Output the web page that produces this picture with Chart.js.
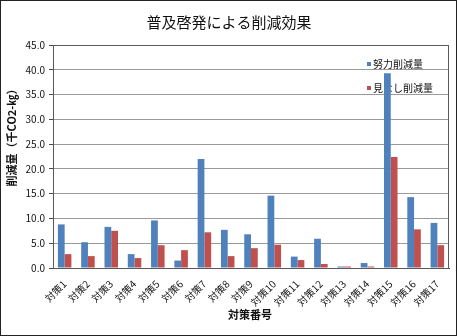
<!DOCTYPE html>
<html>
<head>
<meta charset="utf-8">
<script src="https://cdn.jsdelivr.net/npm/chart.js@4"></script>
<style>
  html, body { margin: 0; padding: 0; background: #fff; }
  #wrap { width: 457px; height: 336px; }
</style>
</head>
<body>
<div id="wrap"><canvas id="effectChart" width="457" height="336"></canvas></div>
<script>
const categories = ['対策1', '対策2', '対策3', '対策4', '対策5', '対策6', '対策7', '対策8', '対策9',
    '対策10', '対策11', '対策12', '対策13', '対策14', '対策15', '対策16', '対策17'];
const effortValues = [8.8, 5.2, 8.3, 2.8, 9.6, 1.5, 22.0, 7.7, 6.8, 14.6, 2.3, 5.9, 0.3, 1.0, 39.3, 14.3, 9.1];
const deemedValues = [2.8, 2.4, 7.5, 2.0, 4.6, 3.6, 7.2, 2.4, 4.0, 4.7, 1.6, 0.8, 0.3, 0.3, 22.4, 7.8, 4.6];
const seriesNames = ['努力削減量', '見なし削減量'];
const yTicks = [0, 5, 10, 15, 20, 25, 30, 35, 40, 45];

const FONT = '"Noto Sans CJK JP", "Noto Sans", sans-serif';
const BLUE = '#4F81BD';
const RED = '#C0504D';

// frame, titles and the in-plot legend
const decorations = {
    id: 'decorations',
    beforeDatasetsDraw(chart) {
        const ctx = chart.ctx;
        ctx.save();
        ctx.font = '10px ' + FONT;
        ctx.textBaseline = 'middle';
        ctx.textAlign = 'left';
        const colors = [BLUE, RED];
        const ys = [64, 88];
        chart.data.datasets.forEach((ds, i) => {
            ctx.fillStyle = colors[i];
            ctx.fillRect(367, ys[i] - 2, 4, 4);
            ctx.fillStyle = '#111';
            ctx.fillText(ds.label, 373, ys[i]);
        });
        ctx.restore();
    },
    afterDraw(chart) {
        const ctx = chart.ctx;
        const a = chart.chartArea;
        ctx.save();
        // plot border
        ctx.strokeStyle = '#5a5a5a';
        ctx.lineWidth = 1;
        ctx.strokeRect(Math.round(a.left) + 0.5, Math.round(a.top) + 0.5,
            Math.round(a.right - a.left) - 1, Math.round(a.bottom - a.top));
        // outer frame
        ctx.strokeStyle = '#222';
        ctx.strokeRect(0.5, 0.5, chart.width - 1, chart.height - 1);

        ctx.fillStyle = '#111';
        ctx.textAlign = 'center';
        ctx.textBaseline = 'middle';
        ctx.font = '15px ' + FONT;
        ctx.fillText('普及啓発による削減効果', 229, 22);

        ctx.font = 'bold 11px ' + FONT;
        ctx.fillText('対策番号', 250, 315);

        ctx.translate(12, 135);
        ctx.rotate(-Math.PI / 2);
        ctx.fillText('削減量（千CO2-㎏）', 0, 0);
        ctx.restore();
    }
};

new Chart(document.getElementById('effectChart'), {
    type: 'bar',
    data: {
        labels: categories,
        datasets: [{
            label: seriesNames[0],
            data: effortValues,
            backgroundColor: BLUE,
            barPercentage: 1,
            categoryPercentage: 0.58
        }, {
            label: seriesNames[1],
            data: deemedValues,
            backgroundColor: RED,
            barPercentage: 1,
            categoryPercentage: 0.58
        }]
    },
    options: {
        responsive: false,
        animation: false,
        layout: { padding: { top: 45, right: 8, left: 0, bottom: 0 } },
        plugins: {
            legend: { display: false },
            title: { display: false },
            tooltip: { enabled: false }
        },
        scales: {
            x: {
                afterFit: (s) => { s.height = 68; },
                grid: { display: false },
                border: { display: true, color: '#4a4a4a' },
                ticks: {
                    minRotation: 45,
                    maxRotation: 45,
                    autoSkip: false,
                    color: '#111',
                    padding: 2,
                    font: { family: FONT, size: 10 }
                }
            },
            y: {
                min: 0,
                max: 45,
                afterFit: (s) => { s.width = 53; },
                afterBuildTicks: (s) => { s.ticks = yTicks.map(v => ({ value: v })); },
                grid: { color: '#9a9a9a', tickColor: '#4a4a4a', tickLength: 4 },
                border: { display: true, color: '#4a4a4a' },
                ticks: {
                    color: '#111',
                    padding: 4,
                    font: { family: FONT, size: 10 },
                    callback: (v) => Number(v).toFixed(1)
                }
            }
        }
    },
    plugins: [decorations]
});
</script>
</body>
</html>
